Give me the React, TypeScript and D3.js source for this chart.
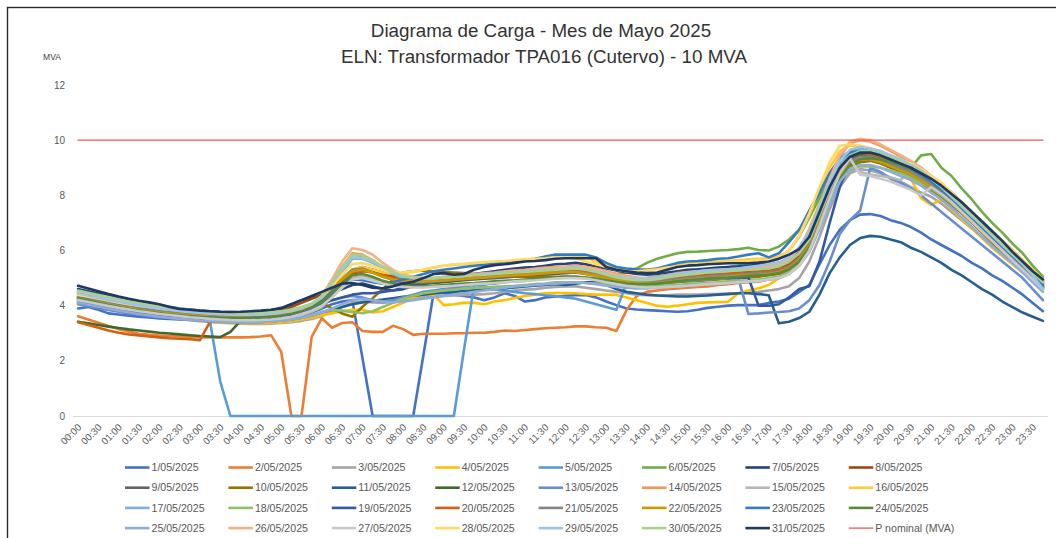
import React from "react";
import * as d3 from "d3";

const tickLabels = [
  "00:00","00:30","01:00","01:30","02:00","02:30","03:00","03:30","04:00","04:30","05:00","05:30",
  "06:00","06:30","07:00","07:30","08:00","08:30","09:00","09:30","10:00","10:30","11:00","11:30",
  "12:00","12:30","13:00","13:30","14:00","14:30","15:00","15:30","16:00","16:30","17:00","17:30",
  "18:00","18:30","19:00","19:30","20:00","20:30","21:00","21:30","22:00","22:30","23:00","23:30",
];

const seriesNames = [
  "1/05/2025","2/05/2025","3/05/2025","4/05/2025","5/05/2025","6/05/2025","7/05/2025","8/05/2025",
  "9/05/2025","10/05/2025","11/05/2025","12/05/2025","13/05/2025","14/05/2025","15/05/2025","16/05/2025",
  "17/05/2025","18/05/2025","19/05/2025","20/05/2025","21/05/2025","22/05/2025","23/05/2025","24/05/2025",
  "25/05/2025","26/05/2025","27/05/2025","28/05/2025","29/05/2025","30/05/2025","31/05/2025",
];

const seriesColors = [
  "#4472C4","#ED7D31","#A5A5A5","#FFC000","#5B9BD5","#70AD47","#264478","#9E480E",
  "#636363","#997300","#255E91","#43682B","#698ED0","#F1975A","#B7B7B7","#FFCD33",
  "#7CAFDD","#8CC168","#335AA1","#D26012","#848484","#CC9A00","#327DC2","#598A39",
  "#8FAADC","#F4B183","#C9C9C9","#FFD966","#9DC3E6","#A9D18E","#203864",
];

const nominalName = "P nominal (MVA)";
const nominalValue = 10;
const nominalColor = "#F05454";

const d01 = [3.9,3.95,3.85,3.72,3.68,3.64,3.6,3.57, 3.54,3.52,3.5,3.48,3.46,3.45,3.44,3.43, 3.43,3.43,3.44,3.46,3.5,3.56,3.64,3.75, 3.9,4.05,4.15,4.2,2.1,0,0,0, 0,0,2.2,4.45,4.45,4.4,4.35,4.3, 4.2,4.3,4.45,4.35,4.15,4.2,4.3,4.33, 4.36,4.38,4.39,4.3,4.15,4.02,3.9,3.86, 3.84,3.82,3.8,3.78,3.8,3.85,3.92,3.96, 4.0,4.02,4.02,4.02,4.1,4.15,4.25,4.5, 4.75,5.5,6.2,6.75,7.1,7.3,7.32,7.25, 7.1,7.0,6.85,6.65,6.4,6.2,6.0,5.8, 5.55,5.35,5.1,4.9,4.65,4.4,4.1,3.8];
const d02 = [3.62,3.5,3.38,3.26,3.15,3.06,2.98,2.94, 2.92,2.9,2.88,2.86,2.86,2.85,2.85,2.85, 2.85,2.86,2.88,2.93,2.33,0,0,2.87, 3.55,3.2,3.37,3.4,3.08,3.05,3.05,3.27, 3.15,2.94,2.98,2.98,2.98,3.0,3.0,3.02, 3.02,3.05,3.1,3.08,3.12,3.15,3.18,3.2, 3.22,3.25,3.25,3.22,3.2,3.08,3.84,4.35, 4.5,4.55,4.6,4.62,4.65,4.68,4.7,4.75, 4.78,4.82,4.85,4.87,4.95,5.0,5.2,5.6, 6.2,7.1,8.0,8.8,9.3,9.5,9.5,9.4, 9.2,9.05,8.85,8.65,8.4,8.15,7.85,7.5, 7.15,6.8,6.45,6.1,5.75,5.4,5.05,4.7];
const d03 = [4.2,4.12,4.04,3.96,3.88,3.8,3.74,3.68, 3.62,3.57,3.52,3.48,3.44,3.41,3.38,3.36, 3.35,3.34,3.34,3.35,3.37,3.4,3.45,3.52, 3.62,3.78,3.95,4.1,4.15,4.12,4.1,4.15, 4.2,4.25,4.3,4.32,4.35,4.37,4.39,4.4, 4.42,4.45,4.5,4.55,4.58,4.6,4.65,4.68, 4.7,4.7,4.65,4.6,4.55,4.5,4.45,4.4, 4.38,4.38,4.38,4.4,4.4,4.4,4.42,4.42, 4.45,4.45,4.48,4.5,4.55,4.6,4.7,5.0, 5.6,6.5,7.5,8.3,8.8,8.95,8.9,8.8, 8.65,8.5,8.3,8.1,7.95,7.7,7.4,7.1, 6.8,6.5,6.2,5.9,5.6,5.3,5.0,4.7];
const d04 = [4.3,4.2,4.1,4.0,3.9,3.82,3.75,3.68, 3.62,3.56,3.52,3.48,3.45,3.42,3.4,3.38, 3.37,3.36,3.36,3.37,3.4,3.44,3.5,3.56, 3.65,3.72,3.8,3.85,3.85,3.75,3.8,3.95, 4.1,4.3,4.4,4.4,4.02,4.05,4.1,4.1, 4.05,4.15,4.2,4.28,4.35,4.4,4.45,4.46, 4.46,4.45,4.42,4.4,4.4,4.39,4.3,4.2, 4.1,4.0,3.96,4.0,4.05,4.1,4.12,4.13, 4.14,4.45,4.55,4.63,4.75,5.0,5.4,6.0, 6.8,7.7,8.5,9.1,9.3,9.35,9.3,9.2, 9.05,8.9,8.6,7.9,7.65,7.85,7.5,7.15, 6.8,6.45,6.1,5.8,5.5,5.2,4.9,4.6];
const d05 = [4.3,4.22,4.14,4.06,3.98,3.9,3.83,3.76, 3.7,3.65,3.6,3.56,3.52,3.4,1.25,0, 0,0,0,0,0,0,0,0, 0,0,0,0,0,0,0,0, 0,0,0,0,0,0,2.4,4.75, 4.7,4.6,4.55,4.5,4.45,4.42,4.38,4.35, 4.3,4.25,4.15,4.05,3.95,3.85,4.8,4.95, 5.0,5.05,5.1,5.15,5.2,5.25,5.3,5.35, 5.4,5.45,5.45,5.5,5.55,5.7,6.0,6.5, 7.2,8.0,8.8,9.35,9.6,9.7,9.65,9.55, 9.4,9.2,9.0,8.8,8.55,8.3,8.0,7.65, 7.3,6.95,6.6,6.25,5.9,5.55,5.2,4.85];
const d06 = [4.5,4.42,4.34,4.26,4.18,4.1,4.04,3.98, 3.92,3.87,3.82,3.78,3.75,3.72,3.7,3.68, 3.67,3.67,3.68,3.7,3.74,3.8,3.9,4.05, 4.3,4.8,5.35,5.85,5.8,5.6,5.35,5.15, 5.0,4.92,4.88,4.9,4.95,4.98,5.0,5.05, 5.08,5.1,5.12,5.15,5.18,5.2,5.25,5.28, 5.3,5.3,5.28,5.25,5.2,5.15,5.2,5.35, 5.55,5.7,5.8,5.9,5.95,5.96,5.98,6.0, 6.02,6.05,6.1,6.02,6.0,6.14,6.4,6.75, 7.2,7.9,8.6,9.1,9.4,9.5,9.5,9.4, 9.3,9.15,9.0,9.45,9.5,9.0,8.7,8.25, 7.85,7.4,7.0,6.65,6.25,5.9,5.45,5.05];
const d07 = [4.6,4.52,4.44,4.36,4.28,4.2,4.14,4.08, 4.02,3.96,3.9,3.86,3.82,3.8,3.78,3.77, 3.76,3.77,3.8,3.84,3.92,4.05,4.2,4.3, 4.35,4.45,4.6,4.75,4.8,4.7,4.6,4.55, 4.6,4.7,4.8,4.9,5.0,5.05,5.1,5.15, 5.2,5.25,5.3,5.35,5.38,5.4,5.45,5.5, 5.52,5.55,5.5,5.42,5.35,5.28,5.2,5.15, 5.12,5.15,5.2,5.25,5.3,5.32,5.35,5.38, 5.4,5.42,5.45,5.48,5.5,5.55,5.7,6.0, 6.6,7.5,8.4,9.1,9.45,9.6,9.6,9.5, 9.35,9.2,9.0,8.8,8.55,8.3,8.0,7.7, 7.35,7.0,6.65,6.3,5.95,5.6,5.25,4.9];
const d08 = [4.3,4.23,4.16,4.08,4.0,3.94,3.88,3.82, 3.77,3.73,3.7,3.67,3.65,3.63,3.62,3.61, 3.61,3.62,3.65,3.7,3.8,3.95,4.1,4.25, 4.4,4.6,4.9,5.15,5.25,5.3,5.2,5.05, 4.95,4.9,4.9,4.92,4.95,5.0,5.02,5.05, 5.08,5.1,5.12,5.15,5.18,5.2,5.22,5.25, 5.28,5.3,5.25,5.2,5.1,5.0,4.95,4.92, 4.92,4.95,5.0,5.05,5.1,5.12,5.15,5.18, 5.2,5.22,5.25,5.28,5.3,5.35,5.5,5.8, 6.3,7.2,8.1,8.9,9.35,9.5,9.5,9.4, 9.25,9.1,8.95,8.75,8.5,8.25,7.95,7.6, 7.25,6.9,6.55,6.2,5.85,5.5,5.15,4.8];
const d09 = [4.35,4.28,4.2,4.12,4.05,3.98,3.92,3.86, 3.8,3.75,3.71,3.68,3.65,3.62,3.6,3.58, 3.57,3.57,3.58,3.6,3.64,3.7,3.8,3.92, 4.1,4.4,4.75,5.0,5.05,4.95,4.85,4.8, 4.78,4.8,4.82,4.85,4.88,4.9,4.92,4.95, 4.98,5.0,5.02,5.05,5.08,5.1,5.12,5.15, 5.18,5.2,5.15,5.1,5.05,4.98,4.92,4.88, 4.85,4.88,4.92,4.95,5.0,5.02,5.05,5.08, 5.1,5.12,5.15,5.18,5.2,5.25,5.4,5.7, 6.2,7.1,8.0,8.8,9.25,9.4,9.4,9.3, 9.15,9.0,8.85,8.65,8.4,8.15,7.85,7.5, 7.15,6.8,6.45,6.1,5.75,5.4,5.05,4.7];
const d10 = [4.2,4.13,4.06,3.99,3.92,3.86,3.8,3.75, 3.7,3.66,3.62,3.59,3.56,3.54,3.52,3.51, 3.5,3.5,3.51,3.53,3.57,3.63,3.72,3.85, 4.1,3.9,3.72,3.6,3.96,4.27,4.6,4.95, 5.2,5.25,5.28,5.25,5.22,5.2,5.18,5.15, 5.12,5.1,5.08,5.06,5.05,5.05,5.05,5.05, 5.05,5.05,5.0,4.95,4.9,4.85,4.8,4.78, 4.78,4.8,4.82,4.85,4.88,4.9,4.92,4.95, 4.98,5.0,5.02,5.05,5.1,5.15,5.3,5.6, 6.1,6.9,7.8,8.6,9.05,9.2,9.25,9.15, 9.0,8.85,8.65,8.45,8.2,7.95,7.65,7.35, 7.0,6.65,6.3,5.95,5.6,5.25,4.95,4.65];
const d11 = [4.1,4.03,3.96,3.89,3.82,3.76,3.7,3.65, 3.6,3.56,3.52,3.49,3.46,3.44,3.42,3.41, 3.4,3.4,3.41,3.43,3.46,3.5,3.56,3.64, 3.75,3.85,3.95,4.05,4.12,4.18,4.22,4.27, 4.32,4.36,4.4,4.44,4.48,4.5,4.53,4.56, 4.58,4.6,4.63,4.66,4.7,4.72,4.75,4.78, 4.75,4.8,4.85,4.85,4.75,4.6,4.5,4.45, 4.4,4.37,4.35,4.33,4.33,4.35,4.37,4.4, 4.42,4.45,4.45,4.42,4.38,3.36,3.42,3.55, 3.78,4.4,5.18,5.75,6.2,6.45,6.53,6.5, 6.4,6.3,6.1,5.95,5.75,5.55,5.3,5.1, 4.85,4.6,4.4,4.15,3.95,3.75,3.6,3.45];
const d12 = [3.42,3.36,3.3,3.24,3.19,3.14,3.1,3.06, 3.02,2.99,2.96,2.93,2.9,2.88,2.86,3.05, 3.45,3.55,3.6,3.65,3.72,3.8,3.92,4.05, 4.25,4.6,5.0,5.3,5.4,5.3,5.1,4.95, 4.85,4.8,4.8,4.82,4.85,4.9,4.95,5.0, 5.02,5.05,5.08,5.1,5.12,5.15,5.18,5.2, 5.22,5.22,5.2,5.15,5.08,5.0,4.92,4.88, 4.86,4.88,4.92,4.96,5.0,5.02,5.05,5.08, 5.1,5.12,5.15,5.18,5.2,5.25,5.4,5.7, 6.2,7.1,8.0,8.8,9.25,9.45,9.5,9.4, 9.3,9.15,9.0,8.85,8.65,8.4,8.1,7.75, 7.4,7.05,6.7,6.35,6.0,5.65,5.3,4.95];
const d13 = [4.05,3.98,3.91,3.84,3.78,3.72,3.67,3.62, 3.58,3.55,3.52,3.5,3.48,3.47,3.46,3.45, 3.45,3.46,3.48,3.52,3.58,3.66,3.76,3.88, 4.05,4.2,4.3,4.35,4.3,4.2,4.15,4.2, 4.3,4.4,4.5,4.55,4.6,4.65,4.7,4.75, 4.78,4.8,4.85,4.88,4.9,4.95,5.0,5.02, 5.05,5.05,5.0,4.95,4.9,4.85,4.82,4.8, 4.8,4.82,4.85,4.88,4.9,4.92,4.95,4.98, 5.0,5.0,3.7,3.72,3.75,3.77,3.8,3.9, 4.2,4.75,5.6,6.6,7.1,7.45,9.0,8.85, 8.6,8.45,8.25,8.0,7.7,7.4,7.1,6.8, 6.5,6.2,5.9,5.6,5.3,5.0,4.6,4.2];
const d14 = [4.45,4.37,4.29,4.21,4.13,4.06,4.0,3.94, 3.88,3.83,3.78,3.74,3.7,3.68,3.66,3.65, 3.64,3.64,3.65,3.67,3.71,3.78,3.88,4.0, 4.3,4.85,5.4,5.9,5.85,5.65,5.4,5.2, 5.05,5.0,4.98,5.0,5.05,5.08,5.12,5.15, 5.18,5.2,5.25,5.28,5.3,5.35,5.38,5.4, 5.42,5.45,5.4,5.35,5.25,5.15,5.08,5.02, 5.0,5.05,5.1,5.18,5.22,5.25,5.28,5.3, 5.32,5.35,5.38,5.4,5.45,5.55,5.75,6.1, 6.7,7.6,8.6,9.4,9.9,10.0,9.95,9.8, 9.6,9.4,9.2,9.0,8.7,8.4,8.05,7.7, 7.35,7.0,6.65,6.3,5.95,5.6,5.25,4.9];
const d15 = [4.15,4.08,4.01,3.94,3.87,3.81,3.75,3.7, 3.65,3.6,3.56,3.52,3.49,3.46,3.44,3.42, 3.41,3.41,3.42,3.44,3.48,3.55,3.65,3.78, 3.95,4.3,4.7,5.0,5.05,4.95,4.85,4.75, 4.7,4.68,4.68,4.7,4.72,4.75,4.78,4.8, 4.82,4.85,4.88,4.9,4.92,4.95,4.98,5.0, 5.02,5.05,5.0,4.95,4.88,4.8,4.72,4.68, 4.65,4.65,4.68,4.7,4.72,4.75,4.78,4.8, 4.82,4.85,4.88,4.9,4.95,5.0,5.15,5.45, 6.0,6.9,7.9,8.7,9.0,8.85,8.75,8.7, 8.65,8.55,8.95,8.75,8.5,8.25,7.95,7.6, 7.25,6.9,6.55,6.2,5.85,5.5,5.15,4.8];
const d16 = [4.35,4.28,4.21,4.14,4.07,4.0,3.95,3.9, 3.86,3.83,3.8,3.78,3.76,3.74,3.72,3.7, 3.69,3.69,3.7,3.72,3.76,3.82,3.9,4.02, 4.25,4.6,5.0,5.3,5.4,5.3,5.2,5.15, 5.18,5.22,5.3,5.38,5.45,5.48,5.5,5.52, 5.55,5.58,5.6,5.62,5.65,5.68,5.7,5.72, 5.75,5.78,5.75,5.6,5.45,5.35,5.3,5.28, 5.3,5.35,5.4,5.48,5.52,5.55,5.58,5.6, 5.62,5.65,5.68,5.7,5.72,5.78,6.0,6.5, 7.3,8.2,9.0,9.6,9.8,9.8,9.7,9.6, 9.45,9.3,9.15,8.95,8.7,8.45,8.1,7.75, 7.4,7.05,6.7,6.35,6.0,5.65,5.3,4.95];
const d17 = [4.4,4.32,4.24,4.16,4.09,4.02,3.96,3.9, 3.85,3.8,3.76,3.72,3.69,3.67,3.65,3.64, 3.63,3.63,3.64,3.66,3.7,3.76,3.85,3.98, 4.2,4.65,5.2,5.7,5.7,5.55,5.35,5.15, 5.0,4.95,4.95,4.98,5.0,5.02,5.05,5.08, 5.1,5.12,5.15,5.18,5.2,5.22,5.25,5.28, 5.3,5.3,5.28,5.22,5.15,5.05,4.98,4.95, 4.95,5.0,5.05,5.1,5.15,5.18,5.2,5.22, 5.25,5.28,5.3,5.32,5.35,5.45,5.6,5.9, 6.5,7.4,8.3,9.1,9.5,9.65,9.6,9.5, 9.35,9.2,9.0,8.8,8.55,8.25,7.95,7.6, 7.25,6.9,6.55,6.2,5.85,5.5,5.15,4.75];
const d18 = [4.05,4.12,4.1,4.0,3.92,3.85,3.78,3.72, 3.66,3.61,3.56,3.52,3.48,3.45,3.43,3.41, 3.4,3.4,3.41,3.43,3.46,3.5,3.56,3.64, 3.78,3.84,3.82,3.76,3.73,3.8,3.95,4.1, 4.25,4.35,4.45,4.5,4.55,4.58,4.62,4.64, 4.66,4.68,4.7,4.72,4.75,4.78,4.8,4.85, 4.85,4.85,4.82,4.8,4.78,4.75,4.72,4.7, 4.7,4.72,4.75,4.75,4.78,4.8,4.82,4.85, 4.88,4.9,4.92,4.95,5.0,5.05,5.2,5.5, 6.0,6.8,7.7,8.5,8.9,9.05,9.05,9.0, 8.9,8.8,8.65,8.45,8.25,8.0,7.7,7.4, 7.05,6.7,6.35,6.0,5.65,5.3,4.95,4.6];
const d19 = [4.1,4.03,3.96,3.89,3.83,3.77,3.72,3.67, 3.63,3.59,3.56,3.53,3.51,3.49,3.48,3.47, 3.47,3.48,3.5,3.54,3.6,3.68,3.78,3.9, 4.05,4.2,4.3,4.4,4.45,4.45,4.5,4.55, 4.65,4.72,4.8,4.85,4.9,4.95,5.0,5.05, 5.08,5.1,5.12,5.15,5.18,5.2,5.22,5.25, 5.25,5.25,5.2,5.12,5.05,4.98,4.92,4.9, 4.9,4.92,4.95,4.98,5.0,5.0,5.02,5.02, 5.02,5.02,5.02,4.0,4.0,4.05,4.3,4.6, 4.7,5.6,7.0,8.3,9.2,9.35,9.3,9.2, 9.05,8.9,8.75,8.55,8.3,8.05,7.75,7.45, 7.1,6.75,6.4,6.05,5.7,5.35,5.0,4.65];
const d20 = [3.4,3.3,3.2,3.1,3.02,2.96,2.92,2.88, 2.85,2.82,2.8,2.78,2.75,3.42,3.45,3.48, 3.5,3.52,3.55,3.6,3.68,3.78,3.9,4.05, 4.3,4.6,4.95,5.2,5.25,5.2,5.1,5.0, 4.92,4.9,4.9,4.92,4.95,4.98,5.0,5.02, 5.05,5.08,5.1,5.12,5.15,5.18,5.2,5.22, 5.25,5.28,5.25,5.18,5.1,5.02,4.95,4.9, 4.88,4.9,4.95,5.0,5.05,5.08,5.1,5.12, 5.15,5.18,5.2,5.22,5.25,5.3,5.45,5.75, 6.3,7.2,8.2,9.0,9.4,9.55,9.5,9.4, 9.25,9.1,8.95,8.75,8.5,8.25,7.95,7.6, 7.25,6.9,6.55,6.2,5.85,5.5,5.15,4.75];
const d21 = [4.3,4.23,4.16,4.09,4.02,3.96,3.9,3.85, 3.8,3.76,3.72,3.69,3.66,3.64,3.62,3.61, 3.6,3.6,3.61,3.63,3.67,3.73,3.82,3.94, 4.15,4.5,4.95,5.3,5.35,5.2,5.05,4.95, 4.88,4.85,4.85,4.88,4.9,4.93,4.96,5.0, 5.02,5.05,5.08,5.1,5.12,5.15,5.18,5.2, 5.22,5.22,5.18,5.12,5.05,4.98,4.92,4.88, 4.86,4.88,4.92,4.96,5.0,5.03,5.06,5.08, 5.1,5.12,5.15,5.18,5.2,5.25,5.4,5.7, 6.2,7.1,8.0,8.8,9.25,9.4,9.4,9.3, 9.15,9.0,8.85,8.65,8.4,8.15,7.85,7.5, 7.15,6.8,6.45,6.1,5.75,5.4,5.05,4.7];
const d22 = [4.25,4.18,4.11,4.04,3.97,3.91,3.85,3.8, 3.75,3.71,3.68,3.65,3.62,3.6,3.59,3.58, 3.58,3.58,3.6,3.63,3.68,3.75,3.85,3.98, 4.2,4.55,4.95,5.25,5.3,5.2,5.05,4.95, 4.9,4.88,4.88,4.9,4.92,4.95,4.98,5.0, 5.02,5.05,5.08,5.1,5.12,5.15,5.18,5.2, 5.22,5.22,5.15,5.08,5.0,4.92,4.86,4.82, 4.8,4.82,4.86,4.9,4.94,4.97,5.0,5.02, 5.05,5.08,5.1,5.12,5.15,5.2,5.35,5.65, 6.15,7.0,7.9,8.7,9.15,9.3,9.3,9.2, 9.05,8.9,8.75,8.55,8.3,8.05,7.75,7.4, 7.05,6.7,6.35,6.0,5.65,5.3,4.95,4.6];
const d23 = [4.2,4.13,4.06,3.99,3.92,3.86,3.8,3.75, 3.7,3.67,3.64,3.61,3.59,3.57,3.56,3.55, 3.55,3.56,3.58,3.62,3.68,3.76,3.86,3.98, 4.2,4.5,4.8,4.95,4.92,4.85,4.8,4.85, 4.95,5.05,5.15,5.25,5.3,5.35,5.4,5.45, 5.48,5.52,5.55,5.6,5.65,5.7,5.78,5.85, 5.85,5.85,5.85,5.75,5.55,5.4,5.35,5.32, 5.3,5.35,5.45,5.55,5.6,5.62,5.65,5.7, 5.72,5.78,5.85,5.9,5.75,5.9,6.3,6.75, 7.45,8.1,8.8,9.3,9.55,9.6,9.55,9.45, 9.3,9.15,8.95,8.75,8.5,8.2,7.9,7.55, 7.2,6.85,6.5,6.15,5.8,5.45,5.1,4.75];
const d24 = [4.25,4.18,4.1,4.02,3.95,3.88,3.82,3.77, 3.72,3.68,3.64,3.61,3.58,3.56,3.54,3.53, 3.53,3.54,3.56,3.6,3.65,3.72,3.82,3.95, 4.15,4.45,4.8,5.1,5.15,5.05,4.9,4.8, 4.72,4.7,4.7,4.72,4.75,4.78,4.8,4.82, 4.85,4.88,4.9,4.92,4.95,4.98,5.0,5.02, 5.05,5.05,5.02,4.98,4.92,4.86,4.8,4.78, 4.78,4.8,4.84,4.88,4.92,4.95,4.98,5.0, 5.02,5.05,5.08,5.1,5.12,5.18,5.32,5.6, 6.1,6.9,7.8,8.6,9.1,9.3,9.35,9.3, 9.2,9.1,8.95,8.8,8.6,8.35,8.05,7.7, 7.35,7.0,6.65,6.3,5.95,5.6,5.25,4.9];
const d25 = [4.1,4.03,3.96,3.89,3.82,3.76,3.7,3.65, 3.6,3.56,3.52,3.49,3.46,3.44,3.42,3.41, 3.4,3.4,3.41,3.43,3.46,3.5,3.56,3.64, 3.75,3.9,4.05,4.2,4.25,4.2,4.15,4.12, 4.15,4.2,4.25,4.3,4.35,4.4,4.45,4.5, 4.55,4.6,4.65,4.7,4.72,4.75,4.78,4.8, 4.82,4.85,4.82,4.78,4.72,4.68,4.65,4.62, 4.62,4.65,4.68,4.7,4.72,4.75,4.78,4.8, 4.82,4.85,4.88,4.9,4.95,5.0,5.15,5.45, 5.95,6.8,7.7,8.5,8.95,9.1,9.1,9.0, 8.85,8.7,8.55,8.35,8.1,7.85,7.55,7.2, 6.85,6.5,6.15,5.85,5.55,5.2,4.85,4.5];
const d26 = [4.5,4.42,4.34,4.26,4.18,4.11,4.05,3.99, 3.93,3.88,3.83,3.79,3.75,3.72,3.7,3.68, 3.67,3.67,3.68,3.7,3.74,3.8,3.9,4.05, 4.35,4.95,5.6,6.08,6.02,5.85,5.55,5.3, 5.12,5.05,5.0,5.0,5.02,5.05,5.08,5.12, 5.15,5.18,5.22,5.25,5.28,5.32,5.35,5.38, 5.4,5.42,5.38,5.32,5.22,5.12,5.05,5.0, 4.98,5.02,5.08,5.15,5.2,5.22,5.25,5.28, 5.3,5.32,5.35,5.38,5.42,5.5,5.7,6.05, 6.7,7.6,8.6,9.45,9.95,10.05,10.0,9.85, 9.65,9.45,9.25,9.0,8.7,8.4,8.05,7.7, 7.35,7.0,6.65,6.3,5.95,5.6,5.25,4.9];
const d27 = [4.2,4.13,4.06,3.99,3.92,3.86,3.8,3.75, 3.7,3.66,3.62,3.58,3.55,3.52,3.5,3.48, 3.47,3.47,3.48,3.5,3.54,3.6,3.7,3.82, 4.0,4.3,4.65,4.95,5.0,4.9,4.8,4.72, 4.68,4.66,4.66,4.68,4.7,4.72,4.75,4.78, 4.8,4.82,4.85,4.88,4.9,4.92,4.95,4.98, 5.0,5.0,4.98,4.92,4.85,4.78,4.72,4.68, 4.66,4.66,4.68,4.7,4.72,4.75,4.78,4.8, 4.82,4.85,4.88,4.9,4.95,5.0,5.15,5.45, 6.0,6.9,7.9,8.8,9.35,8.75,8.7,8.6, 8.5,8.35,8.2,8.0,8.3,8.05,7.75,7.4, 7.05,6.7,6.35,6.0,5.65,5.3,4.95,4.6];
const d28 = [4.4,4.33,4.26,4.19,4.12,4.05,4.0,3.95, 3.9,3.86,3.82,3.79,3.76,3.74,3.72,3.71, 3.7,3.7,3.71,3.73,3.77,3.83,3.92,4.05, 4.3,4.7,5.15,5.5,5.55,5.45,5.3,5.2, 5.2,5.25,5.3,5.38,5.45,5.5,5.52,5.55, 5.58,5.6,5.62,5.65,5.68,5.7,5.72,5.75, 5.75,5.72,5.6,5.5,5.4,5.3,5.25,5.25, 5.28,5.32,5.38,5.42,5.48,5.5,5.52,5.55, 5.58,5.6,5.62,5.65,5.55,5.7,6.0,6.55, 7.35,8.3,9.2,9.8,9.85,9.8,9.7,9.6, 9.45,9.3,9.15,8.95,8.7,8.45,8.1,7.75, 7.4,7.05,6.7,6.35,6.0,5.65,5.3,4.95];
const d29 = [4.45,4.37,4.29,4.21,4.14,4.07,4.01,3.95, 3.9,3.85,3.81,3.77,3.74,3.72,3.7,3.69, 3.68,3.68,3.69,3.71,3.75,3.82,3.92,4.05, 4.3,4.8,5.3,5.75,5.72,5.6,5.4,5.2, 5.05,5.0,4.98,5.0,5.02,5.05,5.08,5.12, 5.15,5.18,5.2,5.22,5.25,5.28,5.3,5.32, 5.35,5.38,5.32,5.25,5.15,5.05,5.0,4.98, 4.98,5.02,5.08,5.15,5.2,5.25,5.28,5.3, 5.32,5.35,5.4,5.45,5.5,5.55,5.75,6.1, 6.7,7.6,8.5,9.25,9.65,9.75,9.7,9.6, 9.45,9.3,9.1,8.9,8.6,8.3,7.95,7.6, 7.25,6.9,6.55,6.2,5.85,5.5,5.1,4.6];
const d30 = [4.55,4.47,4.39,4.31,4.23,4.16,4.1,4.04, 3.98,3.93,3.88,3.84,3.8,3.77,3.75,3.74, 3.73,3.73,3.74,3.76,3.8,3.86,3.95,4.08, 4.35,4.85,5.4,5.85,5.82,5.65,5.42,5.22, 5.08,5.02,5.0,5.0,5.02,5.05,5.08,5.1, 5.12,5.15,5.18,5.2,5.22,5.25,5.28,5.3, 5.32,5.35,5.3,5.22,5.12,5.02,4.96,4.92, 4.92,4.96,5.02,5.08,5.12,5.16,5.2,5.22, 5.25,5.28,5.3,5.32,5.35,5.42,5.6,5.9, 6.4,7.3,8.2,9.0,9.45,9.6,9.6,9.5, 9.35,9.2,9.05,8.85,8.6,8.3,8.0,7.65, 7.3,6.95,6.6,6.25,5.9,5.55,5.2,4.85];
const d31 = [4.72,4.62,4.52,4.42,4.33,4.25,4.18,4.12, 4.05,3.95,3.88,3.85,3.82,3.8,3.78,3.77, 3.78,3.8,3.82,3.85,3.9,4.05,4.2,4.35, 4.5,4.65,4.8,4.82,4.75,4.65,4.63,4.7, 4.8,4.87,5.0,5.15,5.18,5.12,5.15,5.3, 5.4,5.47,5.5,5.55,5.6,5.62,5.65,5.7, 5.72,5.72,5.72,5.72,5.4,5.3,5.25,5.2, 5.18,5.2,5.3,5.4,5.45,5.47,5.5,5.52, 5.54,5.54,5.54,5.56,5.6,5.7,5.85,6.05, 6.5,7.4,8.3,9.0,9.4,9.55,9.55,9.45, 9.3,9.15,9.0,8.8,8.6,8.35,8.05,7.75, 7.4,7.05,6.7,6.35,5.95,5.6,5.25,4.95];

const seriesValues = [
  d01,d02,d03,d04,d05,d06,d07,d08,d09,d10,d11,d12,d13,d14,d15,d16,
  d17,d18,d19,d20,d21,d22,d23,d24,d25,d26,d27,d28,d29,d30,d31,
];

const FONT = "'Liberation Sans', Arial, sans-serif";

export default function App() {
  const width = 1056;
  const height = 538;
  const nPts = d01.length;
  const x = d3.scalePoint<number>().domain(d3.range(nPts)).range([73, 1048]).padding(0.5);
  const y = d3.scaleLinear().domain([0, 12]).range([416, 85]);
  const line = d3
    .line<number>()
    .x((_, i) => x(i) as number)
    .y((d) => y(d));
  const nominalSeries = d01.map(() => nominalValue);
  const yTicks = y.ticks(6);

  const legendItems = [
    ...seriesNames.map((n, i) => ({ name: n, color: seriesColors[i], w: 2.6 })),
    { name: nominalName, color: nominalColor, w: 1.3 },
  ];

  return (
    <svg
      width={width}
      height={height}
      style={{ position: "absolute", left: 0, top: 0, background: "#fff" }}
      fontFamily={FONT}
    >
      <rect x={0} y={0} width={width} height={height} fill="#fff" />
      <rect x={7.5} y={7.5} width={1100} height={600} fill="none" stroke="#2a2a2a" strokeWidth={1.4} />
      <text x={541} y={37} textAnchor="middle" fontSize={18.8} fill="#333">
        Diagrama de Carga - Mes de Mayo 2025
      </text>
      <text x={544} y={63} textAnchor="middle" fontSize={18.8} fill="#333">
        ELN: Transformador TPA016 (Cutervo) - 10 MVA
      </text>
      <text x={52} y={60} textAnchor="middle" fontSize={8.5} fill="#404040">
        MVA
      </text>
      {yTicks.map((t) => (
        <text key={t} x={65} y={y(t)} dy="0.35em" textAnchor="end" fontSize={10} fill="#595959">
          {t}
        </text>
      ))}
      <line x1={73} x2={1048} y1={416.5} y2={416.5} stroke="#D9D9D9" strokeWidth={1} />
      {tickLabels.map((lab, k) => {
        const px = x(k * 2) as number;
        return (
          <text
            key={lab}
            transform={`translate(${px + 4},${428}) rotate(-45)`}
            textAnchor="end"
            fontSize={9.8}
            fill="#595959"
          >
            {lab}
          </text>
        );
      })}
      <g fill="none" strokeLinejoin="round" strokeLinecap="round">
        {seriesValues.map((vals, i) => (
          <path key={i} d={line(vals) || ""} stroke={seriesColors[i]} strokeWidth={2.6} />
        ))}
        <path d={line(nominalSeries) || ""} stroke={nominalColor} strokeWidth={1.3} />
      </g>
      {legendItems.map((it, i) => {
        const col = i % 8;
        const row = Math.floor(i / 8);
        const lx = 125 + col * 103.4;
        const ly = 467.5 + row * 20.2;
        return (
          <g key={it.name}>
            <line x1={lx} x2={lx + 24.5} y1={ly} y2={ly} stroke={it.color} strokeWidth={it.w === 2.6 ? 2.6 : 1.3} />
            <text x={lx + 26.5} y={ly} dy="0.35em" fontSize={10.6} fill="#595959">
              {it.name}
            </text>
          </g>
        );
      })}
    </svg>
  );
}
